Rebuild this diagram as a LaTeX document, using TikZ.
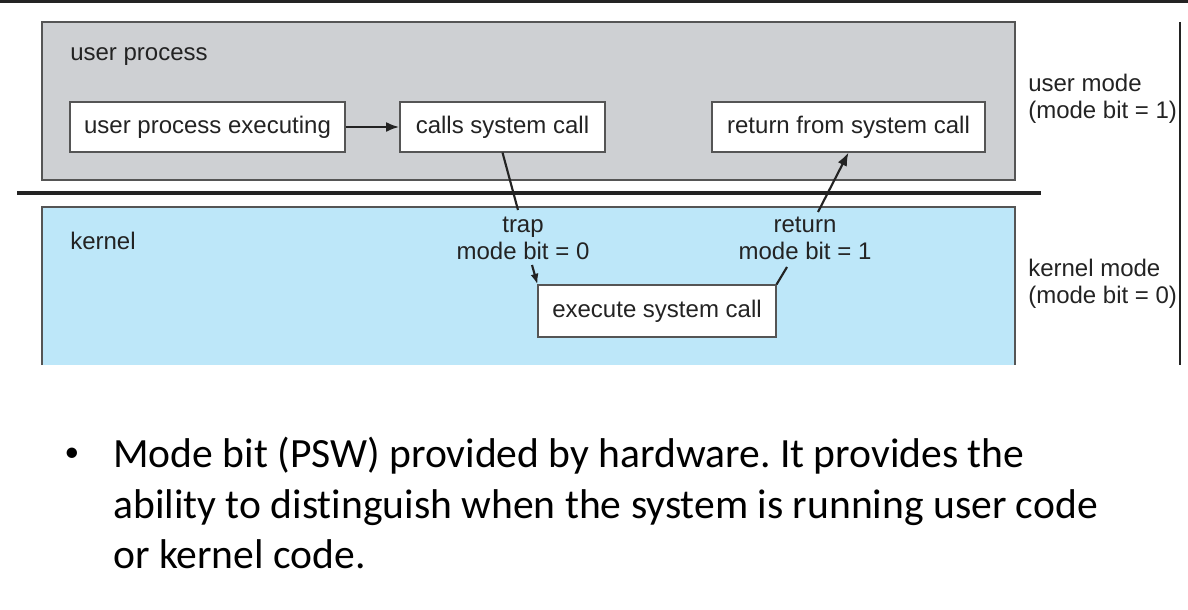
\documentclass[tikz,border=0pt]{standalone}
\usepackage{fontspec}
\setmainfont{Liberation Sans}
\newfontfamily\slidefont[Ligatures=NoCommon]{Carlito}
\frenchspacing
\usetikzlibrary{
  calc,%
  positioning,%
  arrows.meta
}
\definecolor{usergray}{RGB}{206,208,211}
\definecolor{kernelblue}{RGB}{189,231,249}
\definecolor{inkgray}{RGB}{35,35,35}
\definecolor{edgegray}{RGB}{85,85,85}
\tikzset{>={Latex[length=10pt, width=7.5pt]}}
\tikzset{font=\fontsize{18}{20}\selectfont}
\tikzset{tag/.style={inner sep=0pt, text=inkgray, align=left}}
\tikzset{stepbox/.style={draw=edgegray, line width=0.8pt, fill=white,
    text=inkgray, minimum height=37.5pt, inner sep=0pt}}
\tikzset{link/.style={draw=inkgray, line width=1.6pt}}

\begin{document}
\begin{tikzpicture}[x=0.75pt, y=-0.75pt]
  \useasboundingbox (0,0) rectangle (1188,610); %
  % user and kernel areas
  \filldraw[fill=usergray, draw=edgegray, line width=0.8pt] (42,22) rectangle (1015,180); %
  \fill[kernelblue] (42,207) rectangle (1015,365); %
  \draw[edgegray, line width=0.8pt] (42,365) -- (42,207) -- (1015,207) -- (1015,365); %
  \draw[inkgray, line width=2pt] (0,1.5) -- (1188,1.5); %
  \draw[inkgray, line width=2.4pt] (17,193) -- (1041,193); %
  \draw[inkgray, line width=1.2pt] (1180,22) -- (1180,365); %
  \node[tag, anchor=west] (userlbl) at (70,57) {user process}; %
  \node[tag, anchor=west] (kernellbl) at (70,241) {kernel}; %
  % the steps
  \node[stepbox, minimum width=206.25pt] (userexec) at (207.5,127) {user process executing}; %
  \node[stepbox, minimum width=153.75pt] (callsys) at (502.5,127) {calls system call}; %
  \node[stepbox, minimum width=204.75pt] (retsys) at (848.5,127) {return from system call}; %
  \node[stepbox, minimum width=178.5pt, minimum height=39pt] (execsys) at (657,311) {execute system call}; %
  \node[tag, align=center] (trap) at (523,238.5) {trap\\mode bit = 0}; %
  \node[tag, align=center] (retlbl) at (805,238.5) {return\\mode bit = 1}; %
  \node[tag, anchor=west] (usermode) at (1028,99) {user mode\\(mode bit = 1)}; %
  \node[tag, anchor=west] (kernelmode) at (1028,284) {kernel mode\\(mode bit = 0)}; %
  % ends of the links at the labels
  \coordinate (trapin) at (518,210); %
  \coordinate (trapout) at (532,265); %
  \coordinate (retin) at (787,267); %
  \coordinate (retout) at (818,212); %
  % connectors
  \draw[link, line width=2pt, ->] (userexec) -- (callsys); %
  \draw[link] (callsys.south) -- (trapin); %
  \draw[link, ->, >={Latex[length=8pt, width=6pt]}] (trapout) -- (execsys.north west); %
  \draw[link] (execsys.north east) -- (retin); %
  \draw[link, ->] (retout) -- (retsys.south); %
  % note below the figure
  \node[inner sep=0pt, font=\slidefont\fontsize{22}{22}\selectfont] (dot) at (72,455) {•}; %
  \node[inner sep=0pt, anchor=north west, align=left,
    font=\slidefont\fontsize{31.2}{37.8}\selectfont] (note) at (113,437)
    {Mode bit (PSW) provided by hardware. It provides the\\
     ability to distinguish when the system is running user code\\
     or kernel code.}; %
\end{tikzpicture}
\end{document}
